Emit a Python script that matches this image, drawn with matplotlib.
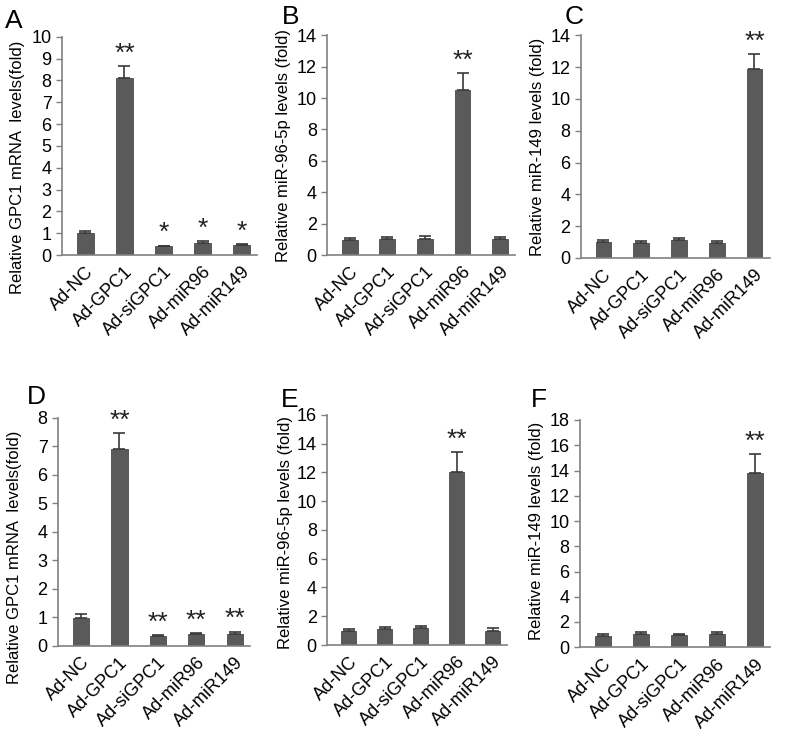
import matplotlib
matplotlib.use("Agg")
import matplotlib.pyplot as plt

plt.rcParams['font.family'] = ['Liberation Sans', 'DejaVu Sans']

groups = ['Ad-NC', 'Ad-GPC1', 'Ad-siGPC1', 'Ad-miR96', 'Ad-miR149']

# panel values (mean, error, significance)
a_vals = [1.0, 8.1, 0.4, 0.55, 0.47]
a_err = [0.12, 0.55, 0.03, 0.08, 0.04]
a_sig = ['', '**', '*', '*', '*']

b_vals = [0.97, 1.0, 1.05, 10.5, 1.05]
b_err = [0.1, 0.12, 0.18, 1.1, 0.12]
b_sig = ['', '', '', '**', '']

c_vals = [1.0, 0.95, 1.1, 0.95, 11.9]
c_err = [0.12, 0.1, 0.17, 0.1, 0.9]
c_sig = ['', '', '', '', '**']

d_vals = [0.98, 6.9, 0.33, 0.42, 0.42]
d_err = [0.15, 0.57, 0.03, 0.03, 0.07]
d_sig = ['', '**', '**', '**', '**']

e_vals = [0.97, 1.08, 1.2, 12.05, 0.97]
e_err = [0.12, 0.18, 0.14, 1.35, 0.18]
e_sig = ['', '', '', '**', '']

f_vals = [0.92, 1.05, 0.98, 1.05, 13.8]
f_err = [0.15, 0.15, 0.07, 0.15, 1.5]
f_sig = ['', '', '', '', '**']

# letter, values, errors, stars, ylabel, ymax, step, axes rect, letter pos, ylabel y
panels = [
    ('A', a_vals, a_err, a_sig, 'Relative GPC1 mRNA  levels(fold)', 10, 1,
     [0.0775, 0.66, 0.244, 0.291], (0.006, 0.988), 0.40),
    ('B', b_vals, b_err, b_sig, 'Relative miR-96-5p levels (fold)', 14, 2,
     [0.409, 0.66, 0.235, 0.293], (0.352, 0.994), 0.5),
    ('C', c_vals, c_err, c_sig, 'Relative miR-149 levels (fold)', 14, 2,
     [0.726, 0.656, 0.236, 0.297], (0.706, 0.994), 0.5),
    ('D', d_vals, d_err, d_sig, 'Relative GPC1 mRNA  levels(fold)', 8, 1,
     [0.0725, 0.139, 0.24, 0.304], (0.034, 0.486), 0.39),
    ('E', e_vals, e_err, e_sig, 'Relative miR-96-5p levels (fold)', 16, 2,
     [0.409, 0.14, 0.225, 0.307], (0.351, 0.483), 0.49),
    ('F', f_vals, f_err, f_sig, 'Relative miR-149 levels (fold)', 18, 2,
     [0.725, 0.137, 0.238, 0.303], (0.664, 0.483), 0.51),
]

bar_color = '#5a5a5a'
axis_color = '#808080'

fig = plt.figure(figsize=(8, 7.5), dpi=100)

for letter, vals, errs, sigs, ylabel, ymax, step, rect, lpos, ly in panels:
    ax = fig.add_axes(rect)
    x = list(range(len(groups)))
    ax.bar(x, vals, width=0.42, color=bar_color, edgecolor='#4a4a4a', linewidth=0.6)
    ax.errorbar(x, vals, yerr=[[0] * len(errs), errs], fmt='none',
                ecolor='#3a3a3a', elinewidth=1.2, capsize=4, capthick=1.2)
    for xi, v, e, s in zip(x, vals, errs, sigs):
        if s:
            ax.text(xi, v + e + ymax * 0.002, s, ha='center', va='bottom',
                    fontsize=19, color='#222222')
    ax.set_xlim(-0.6, 4.4)
    ax.set_ylim(0, ymax)
    ax.set_yticks(range(0, ymax + 1, step))
    ax.set_xticks(x)
    ax.set_xticklabels(groups, rotation=45, ha='right', rotation_mode='anchor',
                       fontsize=13)
    ax.tick_params(axis='x', length=0, pad=6)
    ax.tick_params(axis='y', labelsize=13, length=4, color=axis_color, width=1)
    ax.set_ylabel(ylabel, fontsize=12)
    ax.yaxis.set_label_coords(-0.19, ly)
    for side in ['top', 'right']:
        ax.spines[side].set_visible(False)
    for side in ['left', 'bottom']:
        ax.spines[side].set_color(axis_color)
        ax.spines[side].set_linewidth(1.2)
    fig.text(lpos[0], lpos[1], letter, fontsize=19, ha='left', va='top')

fig.savefig('out.png', dpi=100)
